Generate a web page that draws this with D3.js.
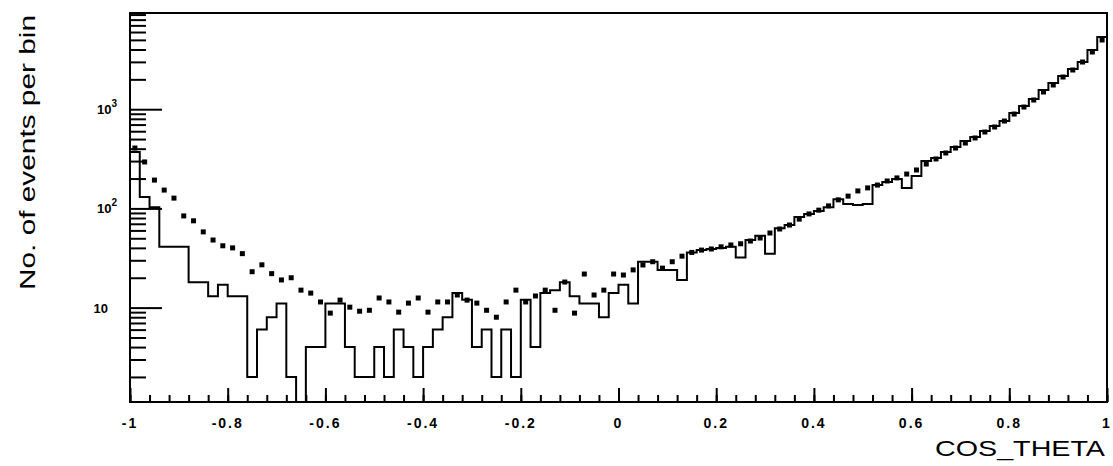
<!DOCTYPE html>
<html>
<head>
<meta charset="utf-8">
<script src="https://cdn.jsdelivr.net/npm/d3@7"></script>
<style>
  body { margin: 0; background: #fff; }
  text { font-family: "Liberation Sans", Arial, sans-serif; }
</style>
</head>
<body>
<div id="my_dataviz"></div>
<script>
// histogram binning of COS_THETA
const nBins = 100, xMin = -1, xMax = 1;

// data histogram (step line), counts per bin
const dataCounts = [370,130,103,41,41,41,18,18,13,17,
  13,13,2,6,8,11,2,1,4,4,
  11,11,4,2,2,4,2,6,4,2,
  4,6,8,14,12,4,6,2,6,2,
  12,4,14,15,18,13,11,11,8,14,
  17,11,29,29,24,24,19,36,38,39,
  40,41,32,48,53,35,63,68,82,88,
  94,103,124,111,108,111,172,185,198,161,
  212,300,322,370,416,478,525,603,677,760,
  916,1077,1267,1561,1837,2161,2542,2991,3953,5344];

// simulation (square markers), counts per bin
const mcCounts = [406,294,193,153,127,84,75,58,48,42,
  40,35,23,27,22,19,20,15,14,11.4,
  8.8,11.9,10.1,9.2,9.4,12.5,11.4,9.0,11.1,12.5,
  9.0,11.4,11.4,13.4,11.9,11.1,9.4,8.0,11.4,15,
  11.4,13.1,15,9.4,18.1,8.8,21.8,13.4,15,21.8,
  21.3,24,26.9,29,25,29,33,36,38,39,
  41,42.8,44,46.9,50.3,56.5,62,68,78,88,
  96,106,122,133,150,161,172,189,203,222,
  244,280,315,362,406,456,513,589,662,760,
  894,1052,1238,1491,1754,2111,2485,2991,3773,4985];

const xTicks = [-1,-0.8,-0.6,-0.4,-0.2,0,0.2,0.4,0.6,0.8,1];
const xTickLabels = ["-1","-0.8","-0.6","-0.4","-0.2","0","0.2","0.4","0.6","0.8","1"];
const yMajor = [10,100,1000];
const yTickExp = ["","2","3"];
const yMinor = [2,3,4,5,6,7,8,9,20,30,40,50,60,70,80,90,200,300,400,500,600,700,800,900,2000,3000,4000,5000,6000,7000,8000,9000];
const yRange = [1.118, 9330];

// set the dimensions and margins of the graph
const margin = {top: 13, right: 6, bottom: 64, left: 130},
  width = 1113 - margin.left - margin.right,
  height = 466 - margin.top - margin.bottom;

const svg = d3.select("#my_dataviz")
  .append("svg")
  .attr("width", 1113)
  .attr("height", 466)
  .append("g")
  .attr("transform", `translate(${margin.left},${margin.top})`);

const x = d3.scaleLinear().domain([xMin, xMax]).range([0, width]);
const y = d3.scaleLog().domain(yRange).range([height, 0]);

const binW = (xMax - xMin) / nBins;
const edges = d3.range(nBins + 1).map(i => xMin + i * binW);

svg.append("clipPath").attr("id", "frameClip")
  .append("rect").attr("width", width).attr("height", height);

// histogram as a step line
const pts = [[x(xMin), y(yRange[0])]];
dataCounts.forEach((v, i) => {
  pts.push([x(edges[i]), y(v)]);
  pts.push([x(edges[i + 1]), y(v)]);
});
svg.append("path")
  .attr("clip-path", "url(#frameClip)")
  .attr("d", d3.line()(pts))
  .style("fill", "none")
  .style("stroke", "#000")
  .style("stroke-width", 2);

// simulation markers
svg.selectAll("myDots")
  .data(mcCounts)
  .join("rect")
    .attr("x", (d, i) => x(edges[i] + binW / 2) - 2.5)
    .attr("y", d => y(d) - 2.5)
    .attr("width", 5)
    .attr("height", 5)
    .style("fill", "#000");

// ticks, inside the frame
const noDomain = g => g.select(".domain").remove();
svg.append("g").call(d3.axisRight(y).tickValues(yMinor).tickSize(16).tickFormat("")).call(noDomain);
svg.append("g").call(d3.axisRight(y).tickValues(yMajor).tickSize(32).tickFormat("")).call(noDomain);
svg.append("g").attr("transform", `translate(0,${height})`)
  .call(d3.axisTop(x).tickValues(d3.range(51).map(i => xMin + i * 0.04)).tickSize(7).tickFormat("")).call(noDomain);
svg.append("g").attr("transform", `translate(0,${height})`)
  .call(d3.axisTop(x).tickValues(xTicks).tickSize(14).tickFormat("")).call(noDomain);
svg.selectAll(".tick line").style("stroke", "#000").style("stroke-width", 2);

// frame
svg.append("rect")
  .attr("width", width).attr("height", height)
  .style("fill", "none").style("stroke", "#000").style("stroke-width", 2);

// x tick labels
svg.selectAll("xLabels")
  .data(xTicks)
  .join("text")
    .attr("x", d => x(d))
    .attr("y", height + 26)
    .attr("text-anchor", "middle")
    .style("font-size", "14px")
    .style("font-weight", "bold")
    .style("letter-spacing", "2px")
    .text((d, i) => xTickLabels[i]);

// y tick labels
const yl = svg.selectAll("yLabels")
  .data(yMajor)
  .join("text")
    .attr("x", (d, i) => yTickExp[i] ? -13 : -22)
    .attr("y", d => y(d) + 5)
    .attr("text-anchor", "end")
    .style("font-size", "13px")
    .style("font-weight", "bold");
yl.append("tspan").text("10");
yl.append("tspan").attr("dy", -7).style("font-size", "10px").text((d, i) => yTickExp[i]);

// axis titles
svg.append("text")
  .attr("transform", `translate(${35 - margin.left},2) rotate(-90)`)
  .attr("text-anchor", "end")
  .attr("textLength", 275)
  .attr("lengthAdjust", "spacingAndGlyphs")
  .style("font-size", "22px")
  .text("No. of events per bin");

svg.append("text")
  .attr("x", width - 2)
  .attr("y", height + 54)
  .attr("text-anchor", "end")
  .attr("textLength", 170)
  .attr("lengthAdjust", "spacingAndGlyphs")
  .style("font-size", "22px")
  .text("COS_THETA");
</script>
</body>
</html>
